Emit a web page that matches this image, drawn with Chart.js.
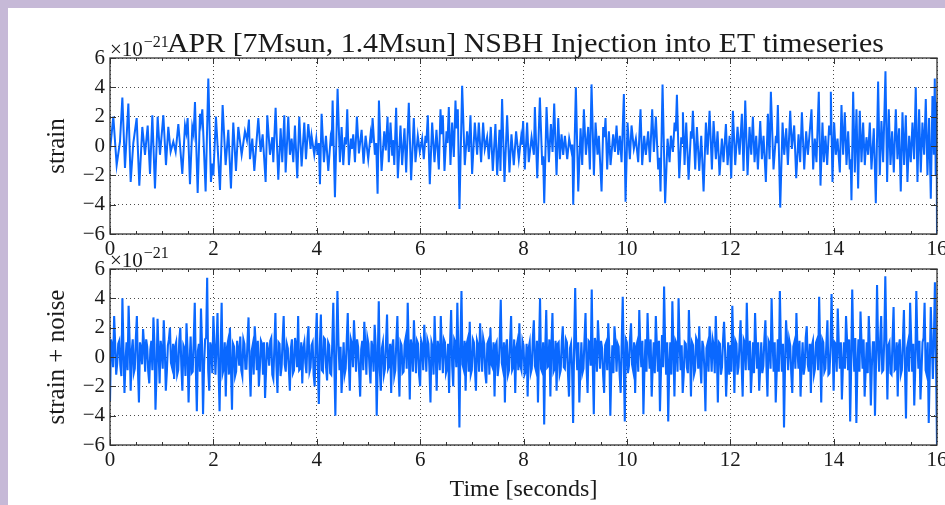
<!DOCTYPE html>
<html lang="en">

<head>
	<meta charset="UTF-8">
	<script src="https://cdn.jsdelivr.net/npm/chart.js@4.4.1/dist/chart.umd.min.js"></script>
	<title>NSBH Injection into ET timeseries</title>
	<style>
		html, body { margin: 0; width: 945px; height: 505px; overflow: hidden; }
		body { position: relative; background: #c6b9d7; }
		#sheet { position: absolute; left: 8px; top: 8px; width: 937px; height: 497px; background: #fff; }
		canvas { position: absolute; left: 0; }
	</style>
</head>

<body>
	<div id="sheet"></div>
	<canvas id="strainChart" width="960" height="262" style="top:0"></canvas>
	<canvas id="noisyChart" width="960" height="265" style="top:240px"></canvas>
	<script>
		const chartTitle = 'APR [7Msun, 1.4Msun] NSBH Injection into ET timeseries';
		const xLabel = 'Time [seconds]';
		const yLabels = ['strain', 'strain + noise'];
		const exponent = '\u221221';
		const xTicks = [0, 2, 4, 6, 8, 10, 12, 14, 16];
		const yTicks = [-6, -4, -2, 0, 2, 4, 6];

		// strain: [time in s, value in 1e-21]
		const strainSamples = [
			[0.000, -0.3], [0.064, 2.0], [0.129, -1.3], [0.193, 0.3], [0.239, 3.3], [0.290, -1.5], [0.355, 2.9], [0.400, -2.45],
			[0.451, 0.2], [0.516, 1.9], [0.567, -2.7], [0.625, 1.3], [0.677, -0.6], [0.729, 1.4], [0.774, -1.9], [0.819, 2.1],
			[0.870, -2.9], [0.922, 2.0], [0.967, -0.6], [1.032, 2.1], [1.083, -1.3], [1.128, 1.3], [1.173, -0.4], [1.225, 0.3],
			[1.270, -0.4], [1.322, 1.5], [1.399, -1.9], [1.451, 1.4], [1.476, 0.9], [1.502, 1.9], [1.547, -2.6], [1.592, 1.3],
			[1.618, 0.8], [1.644, 3.0], [1.696, -3.2], [1.741, 2.2], [1.760, 1.6], [1.786, 2.5], [1.850, -3.1], [1.902, 4.6],
			[1.953, -2.45], [1.979, -1.2], [1.999, -2.0], [2.050, 2.0], [2.128, -3.0], [2.179, 2.8], [2.237, -1.3], [2.289, 1.1],
			[2.340, -2.9], [2.385, 1.6], [2.437, -1.7], [2.482, 1.3], [2.547, -0.6], [2.611, 1.0], [2.650, 0.4], [2.688, 1.8],
			[2.708, -0.9], [2.753, 0.5], [2.792, -1.7], [2.869, 1.9], [2.914, -0.4], [2.953, 0.8], [3.011, -2.45], [3.043, 2.1],
			[3.095, -0.6], [3.140, 0.6], [3.159, -1.1], [3.204, 2.6], [3.256, -2.3], [3.301, 1.2], [3.333, -1.1], [3.372, 2.1],
			[3.398, -1.8], [3.449, 2.0], [3.481, -0.6], [3.514, 0.5], [3.546, -1.1], [3.578, 1.4], [3.623, -2.2], [3.662, 2.0],
			[3.707, -1.4], [3.759, 1.6], [3.791, -0.9], [3.836, 1.5], [3.881, -0.2], [3.900, 0.7], [3.952, -0.6], [3.991, 0.5],
			[4.016, -0.6], [4.040, 0.2], [4.062, -2.6], [4.094, 2.2], [4.139, -1.1], [4.178, 0.7], [4.223, -1.7], [4.268, 0.5],
			[4.288, 0.0], [4.307, 3.1], [4.352, -3.5], [4.403, 3.9], [4.448, -1.1], [4.481, 1.3], [4.513, -1.3], [4.545, 0.6],
			[4.565, 0.1], [4.590, 2.5], [4.622, -1.3], [4.661, 0.5], [4.680, -0.2], [4.706, 0.8], [4.739, -1.1], [4.777, 2.0],
			[4.816, -0.5], [4.868, 1.1], [4.906, -1.2], [4.945, 0.7], [4.996, -0.9], [5.042, 0.8], [5.060, 0.2], [5.080, 1.9],
			[5.125, -0.6], [5.150, 0.2], [5.177, -3.25], [5.203, 3.1], [5.254, -1.7], [5.306, 1.0], [5.335, -0.3], [5.370, 2.0],
			[5.394, -1.1], [5.427, 1.6], [5.459, -0.6], [5.475, 0.4], [5.500, -1.3], [5.536, 2.6], [5.569, -2.2], [5.620, 1.4],
			[5.652, -1.3], [5.697, 1.2], [5.730, -1.8], [5.781, 2.95], [5.826, -2.33], [5.878, 1.9], [5.910, -1.1], [5.955, 0.7],
			[5.994, -0.4], [6.039, 0.5], [6.071, -0.9], [6.104, 0.7], [6.120, 0.2], [6.149, 2.1], [6.187, -2.6], [6.233, 1.6],
			[6.278, -1.1], [6.316, 1.1], [6.362, -1.6], [6.394, 2.5], [6.413, 0.8], [6.439, 2.1], [6.471, -1.7], [6.510, 1.0],
			[6.529, 0.2], [6.555, 2.65], [6.587, -1.3], [6.619, 1.6], [6.652, -0.75], [6.684, 3.1], [6.703, 1.2], [6.729, 2.5],
			[6.761, -4.3], [6.813, 4.1], [6.864, -1.3], [6.909, 1.0], [6.942, -0.4], [6.974, 2.1], [7.006, -1.9], [7.058, 1.6],
			[7.103, -0.6], [7.135, 1.6], [7.180, -1.1], [7.219, 1.6], [7.251, -0.2], [7.296, 0.6], [7.329, -0.9], [7.367, 1.3],
			[7.406, -1.7], [7.457, 1.5], [7.490, -2.0], [7.535, 1.1], [7.554, -1.7], [7.586, 3.2], [7.632, -2.45], [7.683, 2.1],
			[7.728, -1.8], [7.767, 0.8], [7.812, -1.3], [7.857, 1.0], [7.909, -0.9], [7.954, 0.6], [7.970, 0.1], [7.993, 1.7],
			[8.025, -1.6], [8.070, 1.6], [8.102, -1.1], [8.156, 0.6], [8.201, -0.6], [8.220, 2.65], [8.266, -2.2], [8.317, 3.3],
			[8.362, -1.3], [8.380, -0.7], [8.401, -3.9], [8.446, 2.65], [8.491, -1.1], [8.530, 1.5], [8.562, -0.4], [8.594, 2.9],
			[8.639, -2.0], [8.672, 1.9], [8.704, -0.9], [8.736, 0.8], [8.768, -0.6], [8.801, 0.7], [8.846, -0.9], [8.884, 0.5],
			[8.930, -0.4], [8.945, 0.1], [8.962, -4.0], [9.013, 4.0], [9.059, -3.1], [9.104, 1.2], [9.136, -1.3], [9.168, 2.5],
			[9.207, -0.6], [9.252, 1.3], [9.284, -1.6], [9.316, 4.2], [9.362, -2.0], [9.394, 1.6], [9.432, -0.6], [9.458, 0.7],
			[9.510, -3.1], [9.542, 1.3], [9.565, 0.6], [9.587, 1.9], [9.619, -1.6], [9.652, 1.0], [9.684, -1.3], [9.735, 0.8],
			[9.768, -0.4], [9.800, 1.4], [9.832, -0.6], [9.864, 0.7], [9.897, -1.1], [9.942, 3.55], [9.974, -3.8], [10.013, 1.6],
			[10.058, -0.9], [10.090, 1.4], [10.135, -0.2], [10.174, 0.5], [10.219, -1.1], [10.264, 2.5], [10.296, -1.3], [10.335, 0.7],
			[10.367, -0.6], [10.412, 1.0], [10.445, -1.1], [10.490, 2.5], [10.522, -0.4], [10.561, 2.0], [10.606, -1.6], [10.630, -0.8],
			[10.651, -3.1], [10.690, 4.2], [10.740, -3.9], [10.787, 0.5], [10.826, -1.1], [10.852, 0.7], [10.891, -0.4], [10.923, 1.6],
			[10.945, 1.0], [10.968, 3.5], [11.013, -2.2], [11.052, 0.6], [11.068, 0.2], [11.084, 2.3], [11.116, -1.3], [11.148, 1.6],
			[11.194, -2.3], [11.239, 1.0], [11.255, 0.5], [11.277, 2.4], [11.322, -1.6], [11.355, 1.3], [11.400, -1.7], [11.439, 0.7],
			[11.484, -3.1], [11.529, 1.6], [11.561, -0.6], [11.600, 2.4], [11.645, -1.6], [11.677, 1.7], [11.722, -0.9], [11.754, 1.0],
			[11.793, -2.0], [11.838, 0.5], [11.870, -1.1], [11.916, 1.5], [11.948, -1.3], [11.987, 0.7], [12.019, -2.2], [12.051, 2.4],
			[12.096, -1.3], [12.141, 1.3], [12.180, -0.6], [12.225, 2.2], [12.257, -1.7], [12.290, 3.1], [12.335, -2.0], [12.373, 1.3],
			[12.406, -0.6], [12.438, 2.0], [12.470, -1.1], [12.502, 0.7], [12.535, -1.6], [12.580, 1.7], [12.612, -0.9], [12.644, 0.7],
			[12.689, -2.45], [12.728, 2.2], [12.760, -0.9], [12.786, 3.7], [12.837, -1.6], [12.883, 0.7], [12.900, 0.2], [12.921, 2.8],
			[12.967, -4.2], [13.012, 1.6], [13.044, -0.6], [13.083, 1.2], [13.115, -1.3], [13.160, 2.4], [13.192, -0.2], [13.237, 1.4],
			[13.276, -2.2], [13.321, 0.8], [13.353, -1.1], [13.386, 2.3], [13.431, -1.6], [13.469, 1.0], [13.502, -0.6], [13.572, 2.5],
			[13.604, -1.6], [13.636, 0.5], [13.668, -1.1], [13.713, 3.7], [13.746, -2.7], [13.784, 1.6], [13.810, -1.1], [13.842, 0.7],
			[13.875, -1.3], [13.913, 1.4], [13.930, 0.8], [13.946, 3.7], [13.978, -2.45], [14.010, 1.6], [14.042, -0.6], [14.075, 0.5],
			[14.120, -1.8], [14.152, 2.8], [14.184, -0.6], [14.216, 2.3], [14.249, -1.3], [14.281, 1.0], [14.313, -1.6], [14.330, -0.9],
			[14.345, -3.7], [14.378, 3.7], [14.410, -1.8], [14.442, 2.5], [14.474, -2.9], [14.506, 2.4], [14.539, -1.1], [14.571, 1.6],
			[14.603, -1.3], [14.635, 0.6], [14.668, -0.6], [14.700, 1.6], [14.732, -1.6], [14.777, 1.2], [14.816, -3.9], [14.861, 4.4],
			[14.893, -2.0], [14.925, 1.7], [14.958, -1.1], [15.003, 5.1], [15.035, -2.45], [15.067, 2.5], [15.100, -1.3], [15.132, 1.0],
			[15.164, -1.8], [15.203, 2.5], [15.235, -0.9], [15.267, 1.2], [15.299, -3.1], [15.332, 2.3], [15.364, -1.3], [15.396, 2.1],
			[15.428, -2.45], [15.461, 0.7], [15.493, -1.1], [15.525, 1.6], [15.557, -0.9], [15.589, 4.0], [15.622, -2.45], [15.654, 2.5],
			[15.686, -1.8], [15.718, 1.6], [15.751, -0.6], [15.783, 3.2], [15.815, -2.0], [15.847, 1.9], [15.880, -3.6], [15.912, 3.4],
			[15.938, -0.6], [15.957, 4.6], [15.975, -2.0], [15.990, 3.0], [16.000, -6.0]
		];

		// strain + noise (value in 1e-21):
		// noisyValues sit on t = i * noisyStep, noisyMid halfway between them
		const noisyStep = 0.04;
		const noisyValues = [
			-3.0, 0.8, 2.8, -1.2, 0.9, -0.6, 4.0, -2.45, 1.0, 3.5, -2.3, 1.2, -0.8, 2.8, -3.1, 0.6, 1.9, -1.0, 0.7, -1.8, 1.1, 2.7, -3.6, 2.6, -1.8,
			0.5, 2.5, -2.3, 0.8, 2.0, -0.7, -1.5, 1.0, -0.9, 2.0, -2.3, 0.6, 2.3, -3.1, 1.4, -1.0, 3.7, -3.7, 0.9, 3.3, -3.9, 1.2, 5.4, -2.3, 0.6,
			2.8, -1.2, 3.0, -3.7, 3.7, -0.8, -2.7, 1.0, 2.0, -3.6, 0.7, -1.0, 0.5, 1.4, -1.3, 0.9, -0.8, 2.7, -2.7, 0.8, 2.1, -0.9, -2.0, 1.1, -1.2,
			-2.8, 1.0, -0.6, 1.3, -1.5, 3.0, -2.45, 0.9, -0.7, 2.8, -1.0, 0.6, -2.3, 1.2, -0.9, 0.8, 2.8, -0.8, -1.8, 1.0, -1.1, 2.1, -0.7, 1.0, -2.0,
			3.0, -3.2, 2.9, -1.0, 1.2, -1.6, 0.8, -1.2, 3.7, -4.0, 4.5, -0.9, -2.45, 1.0, -0.8, 3.0, -2.3, 0.9, 2.5, -1.0, 0.7, -2.7, 1.1, 2.4, -1.2,
			0.9, -1.8, 0.6, 2.2, -4.0, 3.8, -2.3, 1.0, -0.8, 2.9, -0.6, -2.45, 1.2, -0.9, 2.8, -2.7, 0.8, -1.0, 1.3, 3.7, -2.9, 0.7, 2.5, -1.1, 0.9,
			-2.0, 0.8, 2.2, -1.0, 0.9, -3.1, 0.7, 2.8, -2.3, 0.6, 2.8, -1.1, 1.0, -0.8, -2.45, 3.2, -2.0, 1.0, 3.7, -4.8, 4.5, -0.8, -2.3, 1.2, 2.4,
			-0.9, 1.0, -2.3, 0.8, 2.3, -1.0, 0.9, -1.8, 1.1, 2.0, -0.7, -2.7, 1.0, -0.6, 3.9, -0.8, -3.1, 1.2, -0.9, 2.8, -0.7, -2.45, 1.0, 2.3, -0.9,
			0.8, -1.0, -2.7, 1.0, -0.8, 2.5, -0.9, -3.1, 4.0, -1.0, -4.6, 3.2, -0.6, -2.7, 3.0, -0.8, -2.3, 1.0, -0.9, 2.1, -0.8, 1.0, -2.7, 0.9, -4.5,
			4.7, -0.9, -3.1, 1.0, -0.8, 3.0, -2.45, 1.0, 4.6, -3.9, 0.9, 2.5, -0.8, 0.6, -2.45, 1.0, 2.3, -4.0, 0.8, 2.1, -1.0, 0.7, -2.45, 4.1, -4.4,
			1.0, -0.6, 2.3, -0.9, -2.45, 1.0, 3.2, -0.7, -3.9, 1.2, 3.0, -0.8, -2.7, 1.0, 2.8, -1.0, -3.7, 1.5, 4.8, -1.2, -4.4, 1.0, 3.8, -2.7, 0.9,
			4.0, -0.9, -2.45, 1.0, -0.7, 3.2, -2.7, 0.8, -0.9, 1.1, 2.1, -1.8, 0.7, -3.7, 0.9, 2.1, -1.0, 0.8, 2.8, -3.1, 0.9, -0.7, 2.4, -2.7, 1.0,
			0.8, 3.5, -2.45, 0.9, -0.7, 2.5, -2.7, 1.0, 3.7, -0.9, -2.45, 1.0, 3.0, -0.8, -2.3, 1.0, -0.6, 2.5, -2.7, 0.9, 4.0, -1.0, -3.1, 1.2, 4.5,
			-1.0, -4.8, 2.5, -0.9, 0.8, -2.45, 1.0, 3.0, -0.8, -2.7, 1.0, -0.7, 2.1, -1.0, -2.45, 1.1, -0.8, 1.2, 4.1, -3.1, 1.0, -0.8, 2.5, -1.1, 4.3,
			-2.3, 0.9, 3.3, -0.8, -2.9, 1.0, 2.8, -0.9, -4.4, 4.6, -1.0, -4.5, 1.2, 3.1, -0.8, -2.7, 1.0, 2.8, -3.3, 1.0, -4.0, 4.9, -1.0, 2.8, -0.9,
			5.5, -2.9, 1.0, -1.2, 3.4, -0.8, -2.7, 1.2, -0.9, 3.2, -4.2, 1.0, 3.7, -1.0, -3.3, 4.5, -0.8, -2.9, 1.0, 3.7, -1.2, -4.5, 3.4, -1.5, 5.1,
			-6.0
		];
		const noisyMid = [
			1.2, -0.7, 0.9, -0.4, 1.1, -1.3, 0.6, -0.3, -0.9, 1.0, 0.4, -1.1, 1.3, -0.8, 1.0, -0.5, 0.8, 1.2, -1.0, 0.5, -0.9, 0.9, -1.2, 0.3, 1.1,
			-0.8, 0.6, -1.0, 1.2, -0.4, 0.9, 0.7, -1.2, 1.1, -0.6, 0.8, -1.3, 0.5, -0.4, -1.1, 1.2, -0.7, 0.4, -1.0, 0.9, -0.6, 1.3, -0.9, 1.0, -1.1,
			0.9, 0.7, -0.8, 0.5, -1.1, 1.0, 0.6, -1.2, -0.7, 0.9, -1.3, 1.1, -0.6, -0.9, 1.2, -0.8, 1.0, -0.5, 0.4, -1.2, 0.8, 1.1, -0.7, 0.9, 1.0,
			-0.9, 0.4, 1.1, -1.2, 0.7, -0.6, 1.0, -1.3, 1.2, -0.5, 0.9, -0.8, 0.6, -1.1, 1.3, -0.7, -0.9, 1.0, 0.6, -0.4, 1.2, -1.0, 0.8, -1.2, 1.1,
			-0.6, 0.8, -0.9, 1.3, -0.7, 1.0, -1.1, 0.9, -0.5, 0.6, 1.0, 0.7, -0.8, -1.2, 1.1, -0.4, 1.2, -0.7, 0.9, 1.2, -1.0, 0.5, -0.9, 0.8, 1.3,
			-0.7, 1.1, -1.0, 0.8, -0.3, -0.9, 0.6, -1.2, 1.0, -0.8, 0.9, 0.7, -1.3, 1.1, -0.6, 1.0, -1.1, 0.9, -0.8, 0.5, 1.2, -1.0, 0.6, 1.1, -1.2,
			1.1, -0.9, 0.6, 1.2, -0.8, 1.0, -1.2, 0.4, 1.1, -0.9, 0.5, 1.2, -1.1, 0.9, 1.0, -0.6, 1.2, -0.7, 0.3, 0.8, -0.5, 1.1, 0.9, -1.0, -1.2,
			1.2, -0.8, 1.1, -1.0, 0.6, 1.3, -1.1, 0.9, -1.2, -0.5, 1.0, 0.8, -1.3, 1.1, -0.4, 1.0, 0.7, -1.2, 1.0, -0.9, 1.2, 0.6, -0.9, -0.6, 1.1,
			-1.2, 0.9, 0.6, -1.1, 1.2, -0.6, 1.1, 0.5, -0.8, 1.0, 0.4, -0.7, 1.2, 0.8, -1.0, 1.1, 0.9, -1.2, 1.0, -0.7, 1.2, -1.1, 0.6, -0.8, 0.9,
			0.6, 1.0, -0.9, -1.1, 1.2, -0.7, 1.1, -0.6, -0.5, 1.3, -1.0, 0.9, 1.1, -1.2, 0.8, -0.9, 0.5, -0.8, -1.1, 1.0, 0.9, -1.2, 1.0, -0.6, 1.2,
			-1.1, 1.2, -0.5, 1.0, 0.7, -1.0, 0.6, 1.1, -0.8, -1.0, 0.7, 1.2, -0.6, -1.1, 0.8, 1.1, -0.9, -0.7, 0.9, 1.0, -0.6, -1.2, 0.7, 1.1, -1.0,
			1.0, 0.8, -1.2, 0.9, -1.1, 0.6, 1.0, -1.2, 1.3, -0.8, -0.6, 1.1, -0.9, 0.6, -1.0, 0.7, 1.2, -1.1, 0.5, 1.0, -1.2, 1.1, 0.4, -0.7, -1.2,
			-1.0, 0.7, 1.1, -1.2, 1.0, -0.5, 1.2, -0.9, 0.6, 1.1, -0.9, -1.1, 0.8, 1.0, -0.7, -1.1, 1.2, -0.6, 1.1, -0.8, 0.9, 1.0, -0.9, -1.0, 0.7,
			0.9, -0.6, 1.1, 1.2, -1.1, 0.7, -0.8, 0.5, 1.1, -0.6, -1.2, 1.3, -0.5, 0.9, 0.8, -1.2, 1.0, -0.9, 0.6, 1.2, -1.0, 0.9, -1.2, 0.7, 0.9,
			1.0, -1.0, 0.8, 1.0, -0.6, -0.8, 1.1, 1.2, -0.5, 0.8, 1.3, -0.7, -1.0, 0.9, 1.2, -0.9, -1.1, 0.7, -0.6, 1.0, -0.5, 0.8, 1.1, -1.0, 1.2,
			1.1, 0.8, -1.1, 1.2, -0.9, 1.0, 0.7, -1.2, 1.1, -0.8, 0.6, -1.0, 1.2, 0.9, -0.7, 1.0, 1.1, -1.0, 1.3, -0.9, 1.0, -0.8, 0.9, 1.2, 0.0
		];

		const FONT = "'Liberation Serif', 'DejaVu Serif', serif";
		const BLUE = '#0a68ff';
		const INK = '#1a1a1a';
		const TITLE_WIDTH = 717; // width of the title line in the original figure

		// frame, inward ticks, exponent and title, like the matplotlib original
		const framePlugin = {
			id: 'frame',
			afterDraw(chart, args, opts) {
				const { ctx, chartArea: a, scales: { x, y } } = chart;
				ctx.save();
				ctx.strokeStyle = '#333';
				ctx.lineWidth = 1;
				ctx.beginPath();
				for (let i = 0; i < xTicks.length - 1; i++) {
					for (let k = 0; k < 4; k++) {
						const v = xTicks[i] + k * (xTicks[i + 1] - xTicks[i]) / 4;
						const px = Math.round(x.getPixelForValue(v)) + 0.5;
						const len = k === 0 ? 6 : 3;
						ctx.moveTo(px, a.bottom); ctx.lineTo(px, a.bottom - len);
						ctx.moveTo(px, a.top); ctx.lineTo(px, a.top + len);
					}
				}
				yTicks.forEach(v => {
					const py = Math.round(y.getPixelForValue(v)) + 0.5;
					ctx.moveTo(a.left, py); ctx.lineTo(a.left + 6, py);
					ctx.moveTo(a.right, py); ctx.lineTo(a.right - 6, py);
				});
				ctx.stroke();
				ctx.lineWidth = 1.3;
				ctx.strokeRect(a.left, a.top, a.width, a.height);

				ctx.fillStyle = INK;
				ctx.textAlign = 'left';
				ctx.textBaseline = 'alphabetic';
				ctx.font = `21px ${FONT}`;
				ctx.fillText('\u00d710', a.left, a.top - 2);
				const w = ctx.measureText('\u00d710').width;
				ctx.font = `16px ${FONT}`;
				ctx.fillText(exponent, a.left + w + 1, a.top - 11);
				if (opts.title) {
					ctx.font = `27px ${FONT}`;
					const sx = TITLE_WIDTH / ctx.measureText(opts.title).width;
					ctx.textAlign = 'center';
					ctx.translate((a.left + a.right) / 2 + 2, a.top - 6);
					ctx.scale(sx, 1);
					ctx.fillText(opts.title, 0, 0);
				}
				ctx.restore();
			}
		};

		function makeChart(id, points, o) {
			return new Chart(document.getElementById(id), {
				type: 'line',
				data: {
					datasets: [{
						data: points,
						borderColor: BLUE,
						borderWidth: o.lineWidth,
						pointRadius: 0,
						tension: 0
					}]
				},
				options: {
					responsive: false,
					animation: false,
					devicePixelRatio: 1,
					layout: { padding: { left: 0, right: 23, top: o.padTop, bottom: 0 } },
					plugins: {
						legend: { display: false },
						tooltip: { enabled: false },
						frame: { title: o.title }
					},
					scales: {
						x: {
							type: 'linear',
							min: 0,
							max: 16,
							afterBuildTicks: s => { s.ticks = xTicks.map(v => ({ value: v })); },
							afterFit: s => { s.height = o.xHeight; },
							ticks: { font: { family: FONT, size: 21 }, color: INK, padding: 3, maxRotation: 0 },
							grid: { color: 'rgba(30,30,30,0.8)', lineWidth: 1, drawTicks: false },
							border: { display: false, dash: [1, 3] },
							title: {
								display: !!o.xLabel,
								text: o.xLabel || '',
								font: { family: FONT, size: 24 },
								color: INK,
								padding: { top: 0, bottom: 1 }
							}
						},
						y: {
							type: 'linear',
							min: -6,
							max: 6,
							afterBuildTicks: s => { s.ticks = yTicks.map(v => ({ value: v })); },
							afterFit: s => { s.width = 110; },
							ticks: {
								font: { family: FONT, size: 21 },
								color: INK,
								padding: 5,
								callback: v => String(v).replace('-', '\u2212')
							},
							grid: { color: 'rgba(30,30,30,0.8)', lineWidth: 1, drawTicks: false },
							border: { display: false, dash: [1, 3] },
							title: {
								display: true,
								text: o.yLabel,
								font: { family: FONT, size: 25 },
								color: INK,
								padding: { top: 42, bottom: 0 }
							}
						}
					}
				},
				plugins: [framePlugin]
			});
		}

		const strainPoints = strainSamples.map(([t, v]) => ({ x: t, y: v }));
		const noisyPoints = [];
		noisyValues.forEach((v, i) => {
			noisyPoints.push({ x: i * noisyStep, y: v });
			if (i < noisyMid.length) noisyPoints.push({ x: (i + 0.5) * noisyStep, y: noisyMid[i] });
		});

		makeChart('strainChart', strainPoints, {
			padTop: 58, xHeight: 28, lineWidth: 2.0, title: chartTitle, yLabel: yLabels[0]
		});
		makeChart('noisyChart', noisyPoints, {
			padTop: 29, xHeight: 60, lineWidth: 2.1, yLabel: yLabels[1], xLabel: xLabel
		});
	</script>
</body>

</html>
